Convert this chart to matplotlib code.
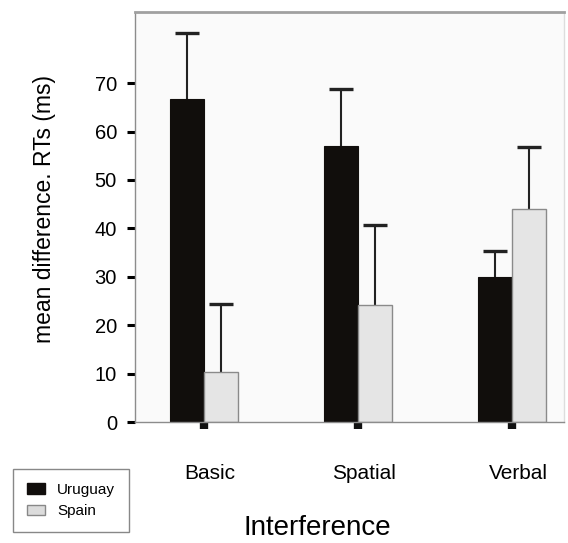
import numpy as np
import matplotlib
matplotlib.use('Agg')
import matplotlib.pyplot as plt
import matplotlib.transforms as mtransforms
from matplotlib.patches import Patch

plt.rcParams['font.family'] = ['Liberation Sans', 'DejaVu Sans']

# Daten
categories = ['Basic', 'Spatial', 'Verbal']
uruguay = [66.8, 57.1, 30.0]
uruguay_err = [13.6, 11.6, 5.3]
spain = [10.4, 24.2, 44.0]
spain_err = [14.0, 16.6, 12.9]

x = np.arange(len(categories))
w = 0.22

fig = plt.figure(figsize=(5.68, 5.43), dpi=100)
ax = fig.add_axes([135 / 568, 1 - 422 / 543, 429 / 568, 410 / 543])
ax.set_facecolor('#fafafa')

ax.bar(x - w / 2, uruguay, w, color='#110e0c', edgecolor='#110e0c', linewidth=0.8, zorder=2)
ax.bar(x + w / 2, spain, w, color='#e5e5e5', edgecolor='#8a8a8a', linewidth=1.0, zorder=2)

# Fehlerbalken nur nach oben (ohne Kappe am Balkenende)
for xs, vals, errs in [(x - w / 2, uruguay, uruguay_err), (x + w / 2, spain, spain_err)]:
    tops = np.array(vals) + np.array(errs)
    ax.vlines(xs, vals, tops, color='#222222', linewidth=1.5, zorder=1)
    ax.plot(xs, tops, linestyle='none', marker='_', markersize=17,
            markeredgewidth=2.4, color='#222222', zorder=1)

ax.set_xlim(-0.448, 2.338)
ax.set_ylim(0, 84.7)

ax.set_yticks(range(0, 80, 10))
ax.tick_params(axis='y', length=6, width=2.2, color='black', labelsize=14.5, pad=7)
ax.set_xticks(x)
ax.set_xticklabels(categories)
ax.tick_params(axis='x', length=5, width=6, color='#111111', labelsize=15, pad=25)
offset = mtransforms.ScaledTranslation(6 / 100, 0, fig.dpi_scale_trans)
for lab in ax.get_xticklabels():
    lab.set_transform(lab.get_transform() + offset)

for side in ['left', 'bottom', 'right']:
    ax.spines[side].set_color('#8c8c8c')
    ax.spines[side].set_linewidth(1.0)
ax.spines['right'].set_color('#dddddd')
ax.spines['top'].set_color('#a0a0a0')
ax.spines['top'].set_linewidth(2.0)

ax.set_ylabel('mean difference. RTs (ms)', fontsize=16.5)
ax.yaxis.set_label_coords(-0.185, 0.52)
ax.set_xlabel('Interference', fontsize=20)
ax.xaxis.set_label_coords((317 - 135) / 429, -0.228)

handles = [Patch(facecolor='#110e0c', edgecolor='#110e0c', label='Uruguay'),
           Patch(facecolor='#dcdcdc', edgecolor='#888888', label='Spain')]
fig.legend(handles=handles, loc='upper left', bbox_to_anchor=(13 / 568, 1 - 469 / 543),
           borderaxespad=0, fancybox=False, edgecolor='#888888', fontsize=11,
           handlelength=1.2, handleheight=0.7, borderpad=0.9, labelspacing=0.5,
           framealpha=1)

fig.savefig('out.png', dpi=100)
